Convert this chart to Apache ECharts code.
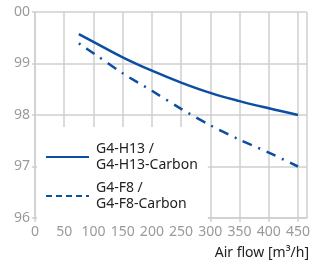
<!DOCTYPE html>
<html>
<head>
<meta charset="UTF-8">
<script type="text/javascript" src="https://cdn.jsdelivr.net/npm/echarts@6/dist/echarts.min.js"></script>
<title>Air flow efficiency</title>
<style>
	html, body { margin: 0; padding: 0; background: #fff; }
	#main { width: 313px; height: 269px; }
</style>
<script>
	// values
	var airFlow = [75, 100, 150, 200, 250, 300, 350, 400, 450];
	var h13Values = [99.57, 99.42, 99.12, 98.86, 98.63, 98.43, 98.27, 98.13, 98.00];
	var f8Values = [99.39, 99.20, 98.81, 98.47, 98.12, 97.80, 97.52, 97.27, 97.00];
	var seriesNames = ['G4-H13 /\nG4-H13-Carbon', 'G4-F8 /\nG4-F8-Carbon'];
	var yTicks = [96, 97, 98, 99, 100];
	var yTickLabels = ['96', '97', '98', '99', '00']; // top label is cut in the picture
	var xTicks = [0, 50, 100, 150, 200, 250, 300, 350, 400, 450];

	function pairs(xs, ys) {
		var out = [];
		for (var i = 0; i < xs.length; i++) {
			out.push([xs[i], ys[i]]);
		}
		return out;
	}

	window.onload = function() {
		var blue = '#0b4ea2';
		var grey = '#cfcfcf';
		var labelGrey = '#9a9a9a';
		var font = 'Noto Sans';
		var myChart = echarts.init(document.getElementById('main'));
		myChart.setOption({
			animation: false,
			grid: {
				left: 35,
				right: 1,
				top: 12,
				bottom: 51
			},
			legend: {
				orient: 'vertical',
				left: 37,
				top: 127,
				backgroundColor: '#fff',
				padding: [6, 10, 2, 8],
				itemWidth: 43,
				itemHeight: 14,
				itemGap: -9,
				itemStyle: { opacity: 0 },
				textStyle: {
					fontFamily: font,
					fontSize: 14,
					color: '#222',
					lineHeight: 16,
					padding: [0, 0, 16, 2]
				},
				data: [
					{ name: seriesNames[0] },
					{ name: seriesNames[1], lineStyle: { type: [6, 4] } }
				]
			},
			xAxis: {
				type: 'value',
				min: 0,
				max: 465,
				interval: 50,
				axisLine: { show: true, lineStyle: { color: grey, width: 1.5 } },
				axisTick: { show: true, length: 4, lineStyle: { color: grey, width: 1.5 } },
				axisLabel: {
					color: labelGrey,
					fontFamily: font,
					fontSize: 14,
					margin: 7,
					showMaxLabel: false,
					formatter: function(v) {
						return xTicks.indexOf(v) >= 0 ? v : '';
					}
				},
				splitLine: { show: true, lineStyle: { color: grey, width: 1.5 } }
			},
			yAxis: {
				type: 'value',
				min: yTicks[0],
				max: yTicks[yTicks.length - 1],
				interval: 1,
				axisLine: { show: true, lineStyle: { color: grey, width: 1.5 } },
				axisTick: { show: true, length: 3, lineStyle: { color: grey, width: 1.5 } },
				axisLabel: {
					color: labelGrey,
					fontFamily: font,
					fontSize: 14,
					margin: 5,
					formatter: function(v) {
						var i = yTicks.indexOf(v);
						return i >= 0 ? yTickLabels[i] : '';
					}
				},
				splitLine: { show: true, lineStyle: { color: grey, width: 1.5 } }
			},
			graphic: [{
				type: 'text',
				right: 4,
				top: 246,
				style: {
					text: 'Air flow [m³/h]',
					fontFamily: font,
					fontSize: 14,
					fill: '#222'
				}
			}],
			series: [
				{
					name: seriesNames[0],
					type: 'line',
					symbol: 'none',
					smooth: 0.4,
					color: blue,
					lineStyle: { color: blue, width: 2.5 },
					data: pairs(airFlow, h13Values)
				},
				{
					name: seriesNames[1],
					type: 'line',
					symbol: 'none',
					smooth: 0.3,
					color: blue,
					lineStyle: { color: blue, width: 2.5, type: [2, 7, 10, 7] },
					data: pairs(airFlow, f8Values)
				}
			]
		});
	};
</script>
</head>
<body>
<div id="main"></div>
</body>
</html>
